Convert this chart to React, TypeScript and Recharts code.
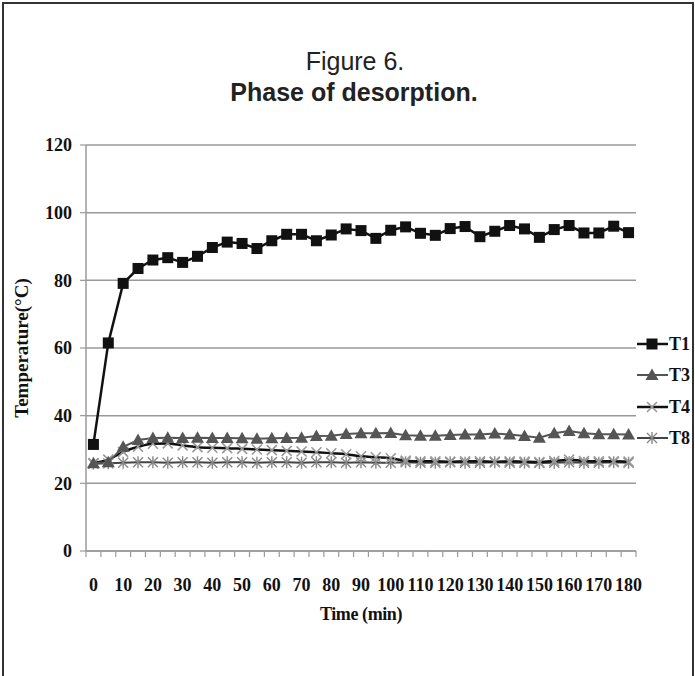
import { LineChart, Line, XAxis, YAxis, CartesianGrid, Legend } from "recharts";

const TIMES = [0, 5, 10, 15, 20, 25, 30, 35, 40, 45, 50, 55, 60, 65, 70, 75, 80, 85, 90, 95, 100, 105, 110, 115, 120, 125, 130, 135, 140, 145, 150, 155, 160, 165, 170, 175, 180];

const T1 = [31.5, 61.5, 79.1, 83.5, 86, 86.7, 85.3, 87.1, 89.7, 91.3, 90.9, 89.4, 91.7, 93.6, 93.6, 91.7, 93.4, 95.2, 94.7, 92.4, 94.8, 95.8, 93.9, 93.3, 95.3, 95.9, 92.9, 94.5, 96.2, 95.2, 92.7, 95, 96.2, 94, 94, 96, 94.1];
const T3 = [25.9, 26.2, 30.8, 32.8, 33.4, 33.5, 33.4, 33.5, 33.4, 33.4, 33.3, 33.2, 33.3, 33.4, 33.5, 34, 34.1, 34.6, 34.8, 34.8, 34.9, 34.2, 34.1, 34.1, 34.3, 34.4, 34.4, 34.7, 34.4, 34, 33.5, 34.8, 35.5, 34.8, 34.5, 34.5, 34.4];
const T4 = [26, 27, 29.3, 30.8, 31.7, 31.8, 31.2, 30.7, 30.5, 30.4, 30.2, 30, 29.8, 29.6, 29.4, 29.2, 28.9, 28.6, 28, 27.7, 27.4, 26.7, 26.5, 26.5, 26.4, 26.5, 26.5, 26.4, 26.5, 26.4, 26.3, 26.6, 27, 26.6, 26.5, 26.5, 26.4];
const T8 = [25.8, 25.9, 26.1, 26.2, 26.2, 26.1, 26.2, 26.2, 26.1, 26.2, 26.2, 26.1, 26.2, 26.2, 26.1, 26.2, 26.2, 26.1, 26.2, 26.1, 26.1, 26.2, 26.1, 26.1, 26.2, 26.1, 26.1, 26.2, 26.1, 26.1, 26, 26.1, 26.2, 26.1, 26.1, 26.2, 26.1];

const Y_TICKS = [0, 20, 40, 60, 80, 100, 120];
const SERIES_NAMES = ["T1", "T3", "T4", "T8"];

const data = TIMES.map((t, i) => ({ time: t, T1: T1[i], T3: T3[i], T4: T4[i], T8: T8[i] }));

const W = 695;
const H = 676;
const MARGIN = { top: 145, right: 59, left: 16, bottom: 49 };
const Y_AXIS_W = 70;
const PLOT_W = W - MARGIN.left - MARGIN.right - Y_AXIS_W;
const serif = "'Liberation Serif', 'Times New Roman', serif";
const GRID = "#9a9a9a";

const Square = ({ cx, cy }: any) => <rect x={cx - 5.5} y={cy - 5.5} width={11} height={11} fill="#111" />;
const Triangle = ({ cx, cy }: any) => (
  <path d={`M${cx},${cy - 6.5} L${cx + 6.5},${cy + 5} L${cx - 6.5},${cy + 5} Z`} fill="#555" />
);
const Cross = ({ cx, cy }: any) => (
  <path d={`M${cx - 5},${cy - 5} L${cx + 5},${cy + 5} M${cx + 5},${cy - 5} L${cx - 5},${cy + 5}`} stroke="#999" strokeWidth={1.6} fill="none" />
);
const Star = ({ cx, cy }: any) => (
  <path
    d={`M${cx - 5},${cy - 5} L${cx + 5},${cy + 5} M${cx + 5},${cy - 5} L${cx - 5},${cy + 5} M${cx},${cy - 6} L${cx},${cy + 6}`}
    stroke="#888"
    strokeWidth={1.4}
    fill="none"
  />
);

const STYLE: Record<string, { stroke: string; width: number; Marker: any }> = {
  T1: { stroke: "#111", width: 2.5, Marker: Square },
  T3: { stroke: "#555", width: 2, Marker: Triangle },
  T4: { stroke: "#111", width: 2.5, Marker: Cross },
  T8: { stroke: "#444", width: 2, Marker: Star },
};

const XTick = ({ x, y, payload }: any) => {
  const half = payload && payload.offset > 0 ? payload.offset : PLOT_W / TIMES.length / 2;
  return (
    <g>
      <line x1={x - half} y1={y} x2={x - half} y2={y + 6} stroke={GRID} strokeWidth={1.2} />
      <line x1={x + half} y1={y} x2={x + half} y2={y + 6} stroke={GRID} strokeWidth={1.2} />
      <text x={x} y={y + 40} textAnchor="middle" fontFamily={serif} fontWeight="bold" fontSize={18} fill="#111">
        {payload.value}
      </text>
    </g>
  );
};

const YLabel = ({ viewBox }: any) => {
  const x = viewBox.x + 5;
  const y = viewBox.y + viewBox.height / 2;
  return (
    <text x={x} y={y} transform={`rotate(-90, ${x}, ${y})`} textAnchor="middle" dominantBaseline="central" fontFamily={serif} fontWeight="bold" fontSize={19} fill="#111">
      Temperature(°C)
    </text>
  );
};

const XLabel = ({ viewBox }: any) => (
  <text x={viewBox.x + viewBox.width / 2} y={viewBox.y + 69} textAnchor="middle" fontFamily={serif} fontWeight="bold" fontSize={18} fill="#111" letterSpacing={-0.4}>
    Time (min)
  </text>
);

const LegendBox = () => (
  <div style={{ fontFamily: serif, fontWeight: "bold", fontSize: 18, color: "#111" }}>
    {SERIES_NAMES.map((name) => {
      const s = STYLE[name];
      const M = s.Marker;
      return (
        <div key={name} style={{ height: 31.5, display: "flex", alignItems: "center" }}>
          <svg width={31} height={16} style={{ display: "block" }}>
            <line x1={0} y1={8} x2={31} y2={8} stroke={s.stroke} strokeWidth={s.width} />
            <M cx={15} cy={8} />
          </svg>
          <span style={{ marginLeft: 1, lineHeight: "18px" }}>{name}</span>
        </div>
      );
    })}
  </div>
);

const dotFor = (name: string) => (p: any) => {
  const M = STYLE[name].Marker;
  return <M key={`${name}-${p.index}`} cx={p.cx} cy={p.cy} />;
};

export default function App() {
  return (
    <div style={{ position: "absolute", left: 0, top: 0, width: W, height: H, background: "#fff", overflow: "hidden" }}>
      <div
        style={{
          position: "absolute",
          left: 2,
          top: 2,
          width: 688,
          height: H,
          borderLeft: "2px solid #333",
          borderTop: "2px solid #333",
          borderRight: "2px solid #333",
        }}
      />
      <svg width={W} height={120} style={{ position: "absolute", left: 0, top: 0 }}>
        <text x={355} y={70} textAnchor="middle" fontFamily="'Liberation Sans', Arial, sans-serif" fontSize={25} fill="#222">
          Figure 6.
        </text>
        <text x={354} y={101} textAnchor="middle" fontFamily="'Liberation Sans', Arial, sans-serif" fontWeight="bold" fontSize={25} fill="#222">
          Phase of desorption.
        </text>
      </svg>
      <div style={{ position: "absolute", left: 0, top: 0 }}>
        <LineChart width={W} height={H} data={data} margin={MARGIN}>
          <CartesianGrid vertical={false} stroke={GRID} strokeWidth={1.5} />
          <XAxis
            dataKey="time"
            type="category"
            scale="band"
            interval={1}
            height={76}
            axisLine={{ stroke: GRID, strokeWidth: 1.5 }}
            tickLine={false}
            tickSize={0}
            tickMargin={0}
            tick={<XTick />}
            label={<XLabel />}
          />
          <YAxis
            domain={[0, 120]}
            ticks={Y_TICKS}
            width={Y_AXIS_W}
            axisLine={{ stroke: GRID, strokeWidth: 1.5 }}
            tickLine={{ stroke: GRID, strokeWidth: 1.2 }}
            tickSize={6}
            tickMargin={8}
            tick={{ fontFamily: serif, fontWeight: "bold", fontSize: 18, fill: "#111" }}
            label={<YLabel />}
          />
          <Legend
            content={<LegendBox />}
            layout="vertical"
            align="center"
            verticalAlign="middle"
            wrapperStyle={{ position: "absolute", left: 637, top: 328, width: 58 }}
          />
          {["T8", "T4", "T3", "T1"].map((name) => (
            <Line
              key={name}
              type={name === "T4" ? "monotone" : "linear"}
              dataKey={name}
              stroke={STYLE[name].stroke}
              strokeWidth={STYLE[name].width}
              dot={dotFor(name)}
              activeDot={false}
              isAnimationActive={false}
            />
          ))}
        </LineChart>
      </div>
    </div>
  );
}
